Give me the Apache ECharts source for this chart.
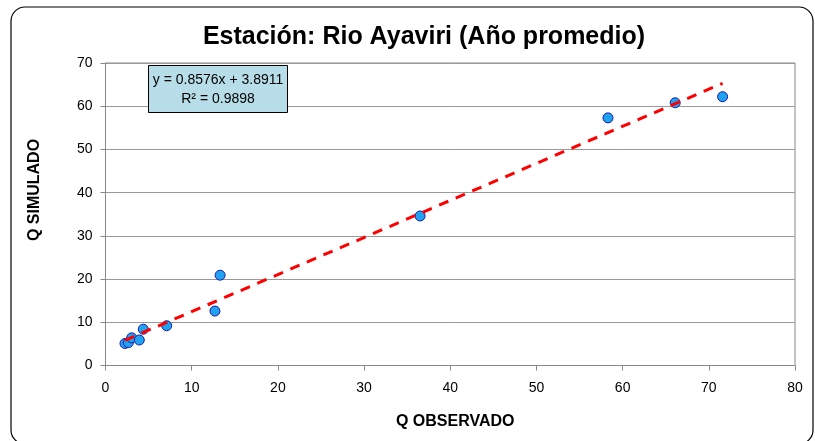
<!DOCTYPE html>
<html><head><meta charset="utf-8">
<script src="https://cdn.jsdelivr.net/npm/echarts@6/dist/echarts.min.js"></script>
<style>html,body{margin:0;padding:0;background:#fff}#c{width:815px;height:441px}</style>
</head><body><div id="c"></div>
<script>
const qObs = [2.26, 2.65, 3.04, 3.92, 4.38, 7.1, 12.7, 13.3, 36.5, 58.3, 66.1, 71.6];
const qSim = [5.1, 5.3, 6.4, 5.9, 8.4, 9.2, 12.6, 20.9, 34.6, 57.3, 60.8, 62.2];
const trendX = [2.26, 71.6];
const trendY = [5.83, 65.3];
const xTicks = [0, 10, 20, 30, 40, 50, 60, 70, 80];
const yTicks = [0, 10, 20, 30, 40, 50, 60, 70];
const titleText = 'Estación: Rio Ayaviri (Año promedio)';
const xName = 'Q OBSERVADO';
const yName = 'Q SIMULADO';
const eqLine1 = 'y = 0.8576x + 3.8911';
const eqLine2 = 'R² = 0.9898';

const font = 'Liberation Sans, Arial, sans-serif';
const chart = echarts.init(document.getElementById('c'));
chart.setOption({
  animation: false,
  title: { text: titleText, left: 419, top: 20, textAlign: 'center',
    textStyle: { fontFamily: font, fontSize: 25, fontWeight: 'bold', color: '#000' } },
  grid: { left: 105.5, right: 20, top: 63, bottom: 75.5, show: true, borderColor: '#888', borderWidth: 1 },
  xAxis: { type: 'value', min: xTicks[0], max: xTicks[xTicks.length-1], interval: 10,
    name: xName, nameLocation: 'middle', nameGap: 48,
    nameTextStyle: { fontFamily: font, fontSize: 16, fontWeight: 'bold', color: '#000', padding: [0, 0, 0, 10] },
    axisLine: { show: true, lineStyle: { color: '#888' } },
    axisTick: { show: true, length: 5, lineStyle: { color: '#888' } },
    axisLabel: { fontFamily: font, fontSize: 14, color: '#000', margin: 16 },
    splitLine: { show: false } },
  yAxis: { type: 'value', min: yTicks[0], max: yTicks[yTicks.length-1], interval: 10,
    axisLine: { show: true, lineStyle: { color: '#888' } },
    axisTick: { show: true, length: 5, lineStyle: { color: '#888' } },
    axisLabel: { fontFamily: font, fontSize: 14, color: '#000', margin: 13 },
    splitLine: { show: true, lineStyle: { color: '#999', width: 1 } } },
  series: [
    { type: 'line', data: trendX.map((x, i) => [x, trendY[i]]), symbol: 'none', z: 3,
      lineStyle: { color: '#ff0000', width: 3, type: [10, 8] } },
    { type: 'scatter', data: qObs.map((x, i) => [x, qSim[i]]), symbolSize: 10, z: 2,
      itemStyle: { color: '#1fa2f0', borderColor: '#1a1aa8', borderWidth: 1, opacity: 1 } }
  ],
  graphic: [
    { type: 'rect', shape: { x: 11, y: 7, width: 802, height: 437, r: 14 }, silent: true, z: -10,
      style: { fill: 'none', stroke: '#000', lineWidth: 1.2 } },
    { type: 'text', x: 35, y: 190, rotation: Math.PI / 2, z: 50,
      style: { text: yName, align: 'center', verticalAlign: 'middle', fontFamily: font, fontSize: 16, fontWeight: 'bold', fill: '#000' } },
    { type: 'rect', shape: { x: 148.5, y: 65.5, width: 139, height: 47 }, z: 100,
      style: { fill: '#b7dee8', stroke: '#000', lineWidth: 1 } },
    { type: 'text', x: 218, y: 71, z: 101,
      style: { text: eqLine1 + '\n' + eqLine2, align: 'center', fontFamily: font, fontSize: 14, lineHeight: 19, fill: '#000' } }
  ]
});
</script></body></html>
